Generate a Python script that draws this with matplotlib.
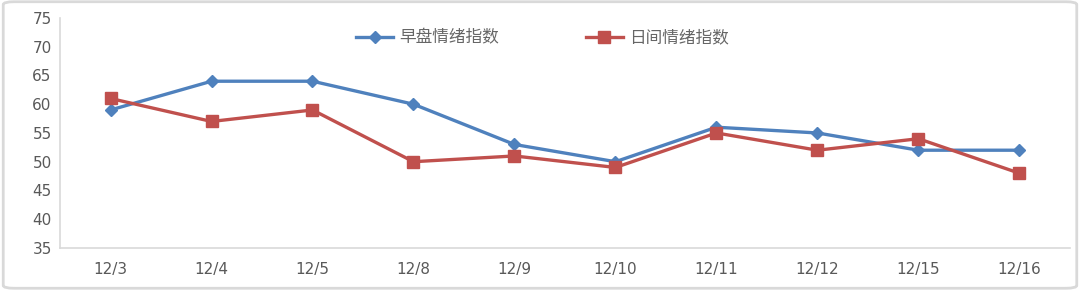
import matplotlib.pyplot as plt
from matplotlib.patches import FancyBboxPatch

plt.rcParams['font.family'] = ['Noto Sans CJK SC', 'DejaVu Sans']

# data
dates = ['12/3', '12/4', '12/5', '12/8', '12/9', '12/10', '12/11', '12/12', '12/15', '12/16']
morning = [59, 64, 64, 60, 53, 50, 56, 55, 52, 52]
daytime = [61, 57, 59, 50, 51, 49, 55, 52, 54, 48]

fig = plt.figure(figsize=(10.8, 2.9), dpi=100)
ax = fig.add_axes([0.0556, 0.145, 0.935, 0.793])

x = range(len(dates))
ax.plot(x, morning, color='#4F81BD', lw=2.4, marker='D', ms=6,
        label='早盘情绪指数')
ax.plot(x, daytime, color='#C0504D', lw=2.4, marker='s', ms=8,
        label='日间情绪指数')

ax.set_xlim(-0.5, len(dates) - 0.5)
ax.set_ylim(35, 75)
ax.set_yticks(range(35, 76, 5))
ax.set_xticks(list(x))
ax.set_xticklabels(dates)
ax.tick_params(length=0, labelsize=11, colors='#595959')
ax.tick_params(axis='x', pad=10)
ax.tick_params(axis='y', pad=6)
for lab in ax.get_xticklabels() + ax.get_yticklabels():
    lab.set_family('DejaVu Sans')

for s in ['top', 'right']:
    ax.spines[s].set_visible(False)
for s in ['left', 'bottom']:
    ax.spines[s].set_color('#D9D9D9')
    ax.spines[s].set_linewidth(1.2)

ax.legend(loc='upper center', bbox_to_anchor=(0.478, 1.015), ncol=2, frameon=False,
          fontsize=12, handlelength=2.2, handletextpad=0.4, columnspacing=5.2,
          labelcolor='#666666')

# light border round the whole picture
fig.patches.append(FancyBboxPatch((0.003, 0.006), 0.994, 0.988,
                                  boxstyle='round,pad=0,rounding_size=0.01',
                                  transform=fig.transFigure, fill=False,
                                  edgecolor='#D9D9D9', lw=2))

fig.savefig('out.png', dpi=100)
